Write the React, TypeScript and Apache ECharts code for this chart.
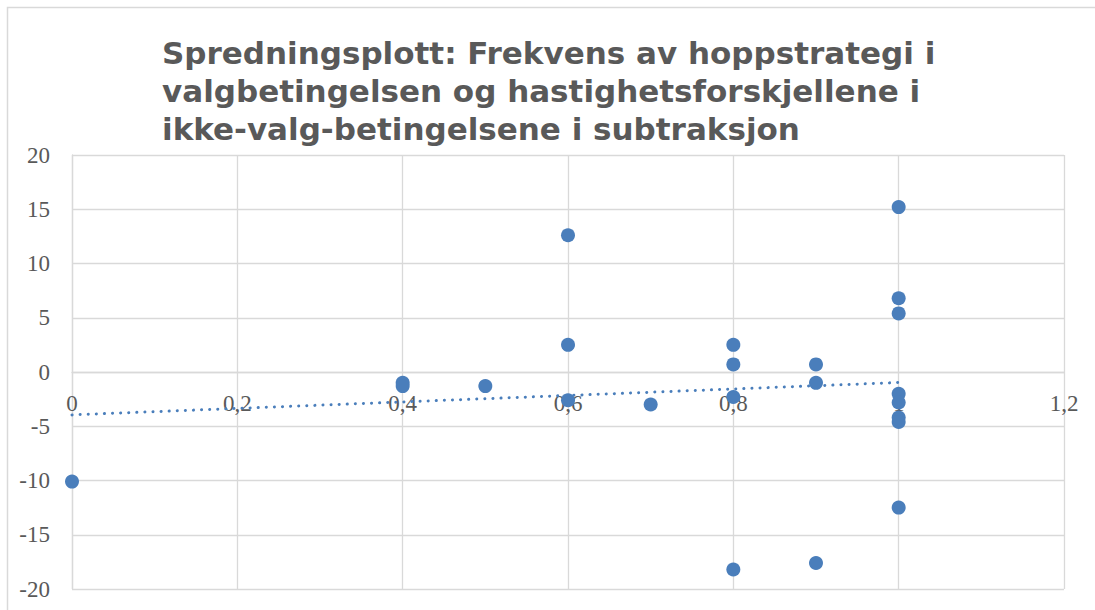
import React, { useEffect, useRef } from "react";
import * as echarts from "echarts";

const TITLE_LINES = [
  "Spredningsplott: Frekvens av hoppstrategi i",
  "valgbetingelsen og hastighetsforskjellene i",
  "ikke-valg-betingelsene i subtraksjon",
];

const xValues = [0, 0.4, 0.4, 0.5, 0.6, 0.6, 0.6, 0.7, 0.8, 0.8, 0.8, 0.8, 0.9, 0.9, 0.9, 1, 1, 1, 1, 1, 1, 1, 1];
const yValues = [-10.1, -1.0, -1.3, -1.3, 12.6, 2.5, -2.6, -3.0, 2.5, 0.7, -2.3, -18.2, 0.7, -1.0, -17.6, 15.2, 6.8, 5.4, -2.0, -2.8, -4.2, -4.6, -12.5];

const X_MIN = 0;
const X_MAX = 1.2;
const X_STEP = 0.2;
const Y_MIN = -20;
const Y_MAX = 20;
const Y_STEP = 5;

function linearFit(xs: number[], ys: number[]) {
  const n = xs.length;
  const mx = xs.reduce((a, b) => a + b, 0) / n;
  const my = ys.reduce((a, b) => a + b, 0) / n;
  let sxy = 0;
  let sxx = 0;
  for (let i = 0; i < n; i++) {
    sxy += (xs[i] - mx) * (ys[i] - my);
    sxx += (xs[i] - mx) * (xs[i] - mx);
  }
  const slope = sxy / sxx;
  return { slope, intercept: my - slope * mx };
}

const W = 1095;
const H = 610;
const GRID_TOP = 155;
const GRID_BOTTOM = 21;

export default function App() {
  const ref = useRef<HTMLDivElement>(null);

  useEffect(() => {
    if (!ref.current) return;
    const chart = echarts.init(ref.current, undefined, { renderer: "svg" });
    const fit = linearFit(xValues, yValues);
    const x0 = Math.min(...xValues);
    const x1 = Math.max(...xValues);
    const trend = [
      [x0, fit.intercept + fit.slope * x0],
      [x1, fit.intercept + fit.slope * x1],
    ];
    const plotH = H - GRID_TOP - GRID_BOTTOM;
    const zeroFromBottom = ((0 - Y_MIN) / (Y_MAX - Y_MIN)) * plotH;
    const gridColor = "#d9d9d9";
    const labelFont = "'Liberation Serif', 'DejaVu Serif', serif";
    chart.setOption({
      animation: false,
      backgroundColor: "#ffffff",
      title: {
        text: TITLE_LINES.join("\n"),
        left: 157,
        top: 29,
        textStyle: {
          fontFamily: "'DejaVu Sans', Verdana, sans-serif",
          fontWeight: "bold",
          fontSize: 31,
          lineHeight: 38,
          color: "#595959",
        },
      },
      graphic: [
        {
          type: "rect",
          shape: { x: 7.5, y: 7.5, width: 1200, height: 800 },
          style: { fill: "none", stroke: gridColor, lineWidth: 1.5 },
          silent: true,
        },
      ],
      grid: {
        left: 72,
        right: 31,
        top: GRID_TOP,
        bottom: GRID_BOTTOM,
        containLabel: false,
        outerBoundsMode: "none",
      },
      xAxis: {
        type: "value",
        min: X_MIN,
        max: X_MAX,
        interval: X_STEP,
        position: "bottom",
        offset: -zeroFromBottom,
        axisLine: { show: true, onZero: false, lineStyle: { color: gridColor, width: 1.3 } },
        axisTick: { show: false },
        splitLine: { show: true, lineStyle: { color: gridColor, width: 1.3 } },
        axisLabel: {
          margin: 20,
          fontFamily: labelFont,
          fontSize: 23,
          color: "#595959",
          showMaxLabel: true,
          showMinLabel: true,
          formatter: (v: number) => String(Number(v.toFixed(1))).replace(".", ","),
        },
      },
      yAxis: {
        type: "value",
        min: Y_MIN,
        max: Y_MAX,
        interval: Y_STEP,
        axisLine: { show: true, onZero: false, lineStyle: { color: gridColor, width: 1.3 } },
        axisTick: { show: false },
        splitLine: { show: true, lineStyle: { color: gridColor, width: 1.3 } },
        axisLabel: {
          margin: 22,
          fontFamily: labelFont,
          fontSize: 23,
          color: "#595959",
        },
      },
      series: [
        {
          type: "line",
          data: trend,
          showSymbol: false,
          symbol: "none",
          z: 1,
          lineStyle: { color: "#4A7EBB", width: 3, type: [0.1, 8], cap: "round" },
          silent: true,
        },
        {
          type: "scatter",
          data: xValues.map((x, i) => [x, yValues[i]]),
          symbol: "circle",
          symbolSize: 14,
          z: 2,
          itemStyle: { color: "#4A7EBB", opacity: 1 },
        },
      ],
    });
    return () => chart.dispose();
  }, []);

  return (
    <div
      ref={ref}
      style={{ position: "fixed", left: 0, top: 0, width: W, height: H, background: "#fff" }}
    />
  );
}
